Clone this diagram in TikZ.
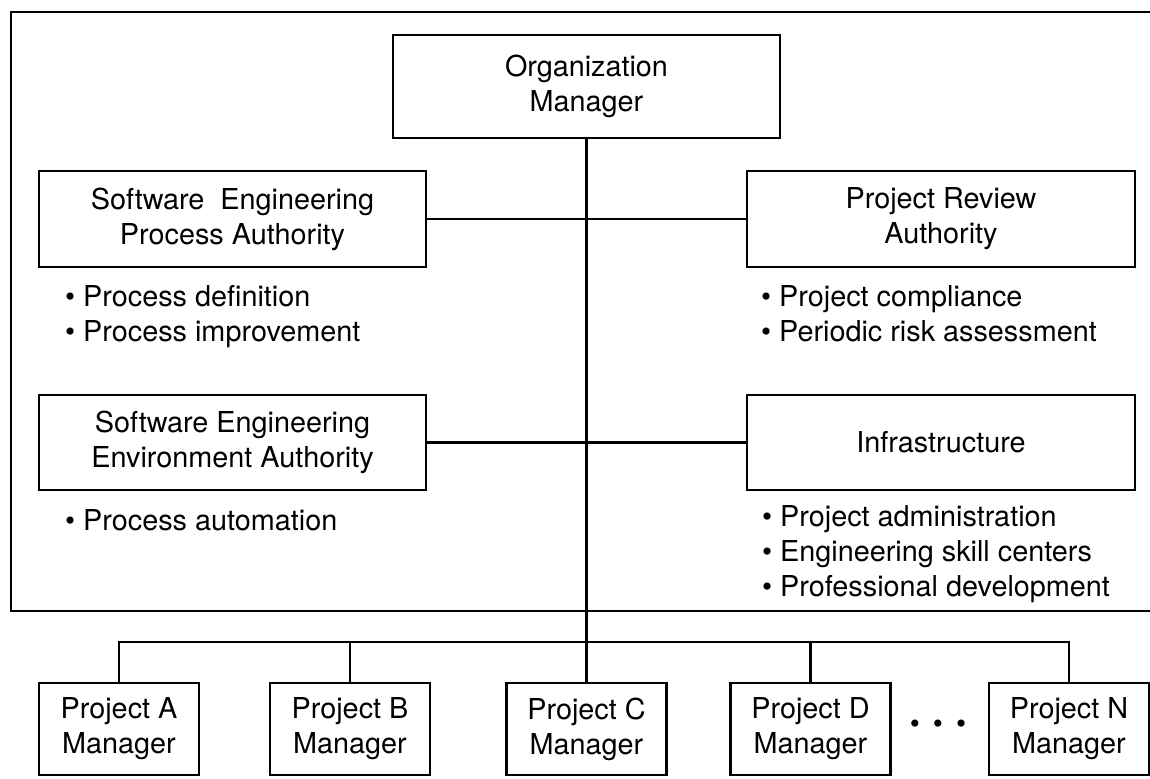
\documentclass[tikz,border=0pt]{standalone}
\usepackage{fontspec}
\setmainfont{TeX Gyre Heros}
\tikzset{>=stealth}
\tikzset{box/.style={draw,align=center,inner sep=0pt,
    font=\fontsize{14.4}{17.5}\selectfont},
  pmbox/.style={box,minimum width=80pt,minimum height=46pt},
  list/.style={anchor=north west,align=left,inner sep=0pt,
    font=\fontsize{14.4}{17.5}\selectfont}}
\newcommand*{\bl}{\textbullet\ }

\begin{document}
\begin{tikzpicture}[x=.5pt,y=-.5pt,line width=1.1pt]
\useasboundingbox (0,0) rectangle (1150,778);
% outer frame, cut off on the right
\draw (1150,12) -- (11,12) -- (11,611) -- (1150,611);
\node[box,minimum width=193.5pt,minimum height=51.5pt] (org)
  at (586.5,86.5) {Organization\\Manager};
\node[box,minimum width=193.5pt,minimum height=48pt] (sepa)
  at (232.5,219) {Software\ \ Engineering\\Process Authority};
\node[box,minimum width=194pt,minimum height=48pt] (pra)
  at (941,219) {Project Review\\Authority};
\node[box,minimum width=193.5pt,minimum height=47.5pt] (seea)
  at (232.5,442.5) {Software Engineering\\Environment Authority};
\node[box,minimum width=194pt,minimum height=47.5pt] (infra)
  at (941,442.5) {Infrastructure};
\node[list] (sepal) at (64,284)
  {\bl Process definition\\\bl Process improvement};
\node[list] (pral) at (760,284)
  {\bl Project compliance\\\bl Periodic risk assessment};
\node[list] (seeal) at (64,508) {\bl Process automation};
\node[list] (infral) at (761,504)
  {\bl Project administration\\\bl Engineering skill centers\\
   \bl Professional development};
\draw (sepa) -- (pra);
\draw (seea) -- (infra);
% project managers
\node[pmbox] (pa) at (119,729) {Project A\\Manager};
\node[pmbox] (pb) at (350,729) {Project B\\Manager};
\node[pmbox] (pc) at (586.5,729) {Project C\\Manager};
\node[pmbox] (pd) at (810.5,729) {Project D\\Manager};
\node[pmbox] (pn) at (1069,729) {Project N\\Manager};
\node[font=\fontsize{14.4}{17.5}\selectfont] (dots) at (938,727)
  {\textbullet\hspace{6.5pt}\textbullet\hspace{6.5pt}\textbullet};
\coordinate (bus) at (586.5,642);
\draw (org) -- (pc);
\draw (pa.north) |- (bus) -| (pn.north);
\draw (pb.north) -- (pb.north |- bus);
\draw (pd.north) -- (pd.north |- bus);
\end{tikzpicture}
\end{document}
